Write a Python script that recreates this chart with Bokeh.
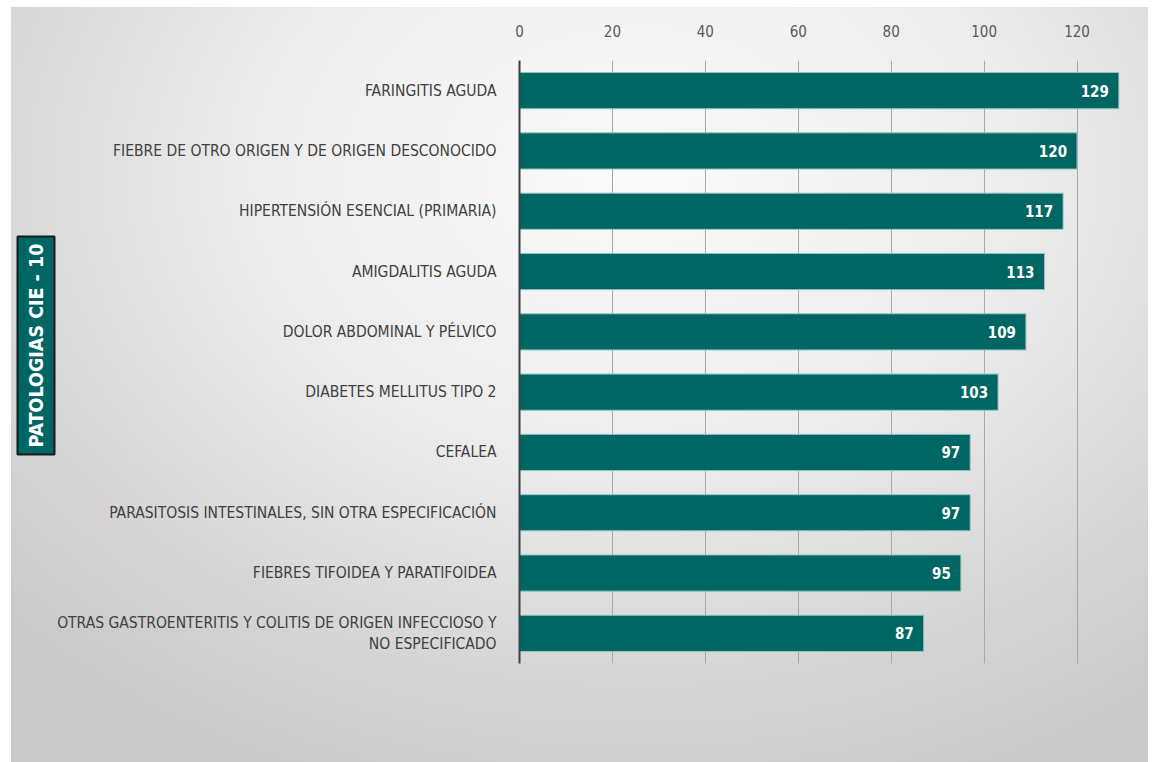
from bokeh.plotting import figure
from bokeh.models import ColumnDataSource, FactorRange, Range1d, FixedTicker, LabelSet, Title
from bokeh.core.properties import value
from bokeh.embed import file_html
from bokeh.resources import INLINE

categories = [
    "FARINGITIS AGUDA",
    "FIEBRE DE OTRO ORIGEN Y DE ORIGEN DESCONOCIDO",
    "HIPERTENSIÓN ESENCIAL (PRIMARIA)",
    "AMIGDALITIS AGUDA",
    "DOLOR ABDOMINAL Y PÉLVICO",
    "DIABETES MELLITUS TIPO 2",
    "CEFALEA",
    "PARASITOSIS INTESTINALES, SIN OTRA ESPECIFICACIÓN",
    "FIEBRES TIFOIDEA Y PARATIFOIDEA",
    "OTRAS GASTROENTERITIS Y COLITIS DE ORIGEN INFECCIOSO Y\nNO ESPECIFICADO",
]
counts = [129, 120, 117, 113, 109, 103, 97, 97, 95, 87]
x_ticks = [0, 20, 40, 60, 80, 100, 120]
axis_title = "PATOLOGIAS CIE - 10"

FONT = "'Liberation Sans Narrow', 'DejaVu Sans Condensed', 'Open Sans', sans-serif"
TEAL = "#006663"

src = ColumnDataSource(dict(cat=categories, val=counts, lab=[str(v) for v in counts]))

p = figure(
    width=1137, height=755,
    y_range=FactorRange(*reversed(categories)),
    x_range=Range1d(0, 130),
    x_axis_location="above",
    output_backend="svg", toolbar_location=None,
    min_border_left=508, min_border_right=25, min_border_top=53, min_border_bottom=99,
)
p.margin = (7, 0, 0, 11)
p.styles = {"background": "radial-gradient(ellipse 75% 85% at 55% 22%, #fbfbfb 0%, #ececec 45%, #d2d2d2 85%, #cacaca 100%)"}
p.border_fill_alpha = 0
p.background_fill_alpha = 0
p.outline_line_color = None

p.hbar(y="cat", right="val", left=0, height=0.6, source=src,
       fill_color=TEAL, line_color="#8cc9c4", line_width=1)

labels = LabelSet(x="val", y="cat", text="lab", source=src, x_offset=-10,
                  text_align="right", text_baseline="middle",
                  text_color="white", text_font=value(FONT),
                  text_font_style="bold", text_font_size="15px")
p.add_layout(labels)

xa = p.xaxis[0]
xa.ticker = FixedTicker(ticks=x_ticks)
xa.axis_line_color = None
xa.major_tick_line_color = None
xa.minor_tick_line_color = None
xa.major_label_standoff = 18
xa.major_label_text_color = "#595959"
xa.major_label_text_font = FONT
xa.major_label_text_font_size = "15px"

ya = p.yaxis[0]
ya.axis_line_color = "#404040"
ya.axis_line_width = 2
ya.major_tick_line_color = None
ya.minor_tick_line_color = None
ya.major_label_standoff = 17
ya.major_label_text_color = "#404040"
ya.major_label_text_font = FONT
ya.major_label_text_font_size = "15.5px"

p.xgrid.grid_line_color = "#a8a8a8"
p.xgrid.grid_line_width = 1
p.xgrid.ticker = FixedTicker(ticks=x_ticks)
p.ygrid.grid_line_color = None

side_title = Title(text=axis_title, align="left", offset=209, standoff=0,
                   text_color="white", text_font=FONT, text_font_style="bold",
                   text_font_size="19.5px",
                   background_fill_color=TEAL, border_line_color="#1a1a1a",
                   border_line_width=2, padding=7)
p.add_layout(side_title, "left")

open("out.html", "w").write(file_html(p, INLINE))
